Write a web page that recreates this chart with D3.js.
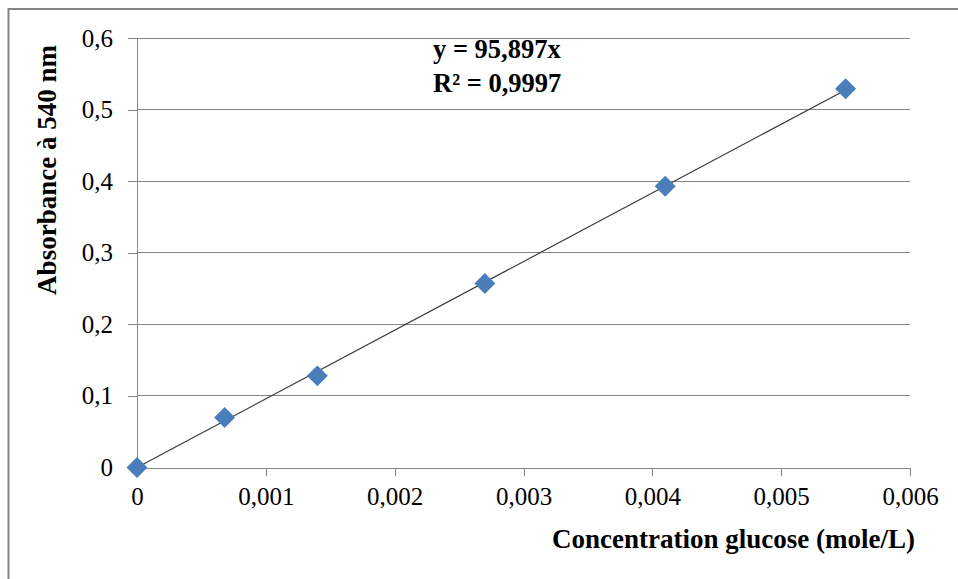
<!DOCTYPE html>
<html>
<head>
<meta charset="utf-8">
<script src="https://cdn.jsdelivr.net/npm/d3@7"></script>
<style>
    body { margin: 0; background: #fff; }
    svg text { font-family: "Liberation Serif", "Times New Roman", serif; fill: #000; }
    .axis path, .axis line { stroke: #868686; shape-rendering: crispEdges; }
    .axis text { font-size: 25px; }
    .grid line { stroke: #868686; shape-rendering: crispEdges; }
</style>
</head>
<body>
<div id="chart"></div>
<script>
// glucose concentration (mole/L) and absorbance
var concentration = [0, 0.00068, 0.0014, 0.0027, 0.0041, 0.0055];
var absorbance = [0, 0.070, 0.128, 0.257, 0.393, 0.529];
var xTicks = [0, 0.001, 0.002, 0.003, 0.004, 0.005, 0.006];
var yTicks = [0, 0.1, 0.2, 0.3, 0.4, 0.5, 0.6];
var slope = 95.897;
var equationLines = ["y = 95,897x", "R\u00b2 = 0,9997"];
var xTitle = "Concentration glucose (mole/L)";
var yTitle = "Absorbance \u00e0 540 nm";

var svg_width = 958, svg_height = 579;
var margin = {top: 38, right: 48, bottom: 111.5, left: 137};
var width = svg_width - margin.left - margin.right;
var height = svg_height - margin.top - margin.bottom;

var svg = d3.select("#chart").append("svg")
    .attr("width", svg_width)
    .attr("height", svg_height);

// chart area border (right and bottom edges fall outside the picture)
svg.append("rect")
    .attr("x", 8.5).attr("y", 9)
    .attr("width", 980).attr("height", 600)
    .attr("fill", "none")
    .attr("stroke", "#858585")
    .attr("stroke-width", 2);

var el = svg.append("g")
    .attr("transform", "translate(" + margin.left + "," + margin.top + ")");

var x = d3.scaleLinear().domain([0, 0.006]).range([0, width]);
var y = d3.scaleLinear().domain([0, 0.6]).range([height, 0]);

function comma(d, digits) {
    return d === 0 ? "0" : d.toFixed(digits).replace(".", ",");
}

// horizontal gridlines
el.append("g")
    .attr("class", "grid")
    .selectAll("line")
    .data(yTicks.slice(1))
  .enter().append("line")
    .attr("x1", 0).attr("x2", width)
    .attr("y1", function(d) { return y(d); })
    .attr("y2", function(d) { return y(d); });

var xAxis = d3.axisBottom(x).tickValues(xTicks).tickSize(8).tickSizeOuter(0).tickPadding(12)
    .tickFormat(function(d) { return comma(d, 3); });
var yAxis = d3.axisLeft(y).tickValues(yTicks).tickSize(9).tickSizeOuter(0).tickPadding(15)
    .tickFormat(function(d) { return comma(d, 1); });

el.append("g")
    .attr("class", "axis axis--y")
    .call(yAxis);

el.append("g")
    .attr("class", "axis axis--x")
    .attr("transform", "translate(0," + height + ")")
    .call(xAxis);

el.selectAll(".axis")
    .attr("font-family", "Liberation Serif, serif");
el.selectAll(".axis text").attr("fill", "#000");

// linear trendline through the origin
var xMax = d3.max(concentration);
el.append("line")
    .attr("x1", x(0)).attr("y1", y(0))
    .attr("x2", x(xMax)).attr("y2", y(slope * xMax))
    .attr("stroke", "#3a3a3a")
    .attr("stroke-width", 1.2);

// diamond markers
var diamond = d3.symbol().type(d3.symbolSquare).size(220);
el.selectAll(".point")
    .data(concentration)
  .enter().append("path")
    .attr("class", "point")
    .attr("d", diamond)
    .attr("fill", "#4a7ebb")
    .attr("transform", function(d, i) {
        return "translate(" + x(d) + "," + y(absorbance[i]) + ") rotate(45)";
    });

// trendline equation
svg.append("text")
    .attr("x", 433).attr("y", 58)
    .style("font-size", "26.5px").style("font-weight", "bold")
    .selectAll("tspan")
    .data(equationLines)
  .enter().append("tspan")
    .attr("x", 433)
    .attr("dy", function(d, i) { return i === 0 ? 0 : 34; })
    .text(function(d) { return d; });

// axis titles
svg.append("text")
    .attr("x", 915).attr("y", 548)
    .attr("text-anchor", "end")
    .style("font-size", "27px").style("font-weight", "bold")
    .text(xTitle);

svg.append("text")
    .attr("transform", "translate(56,170) rotate(-90)")
    .attr("text-anchor", "middle")
    .style("font-size", "27px").style("font-weight", "bold")
    .text(yTitle);
</script>
</body>
</html>
